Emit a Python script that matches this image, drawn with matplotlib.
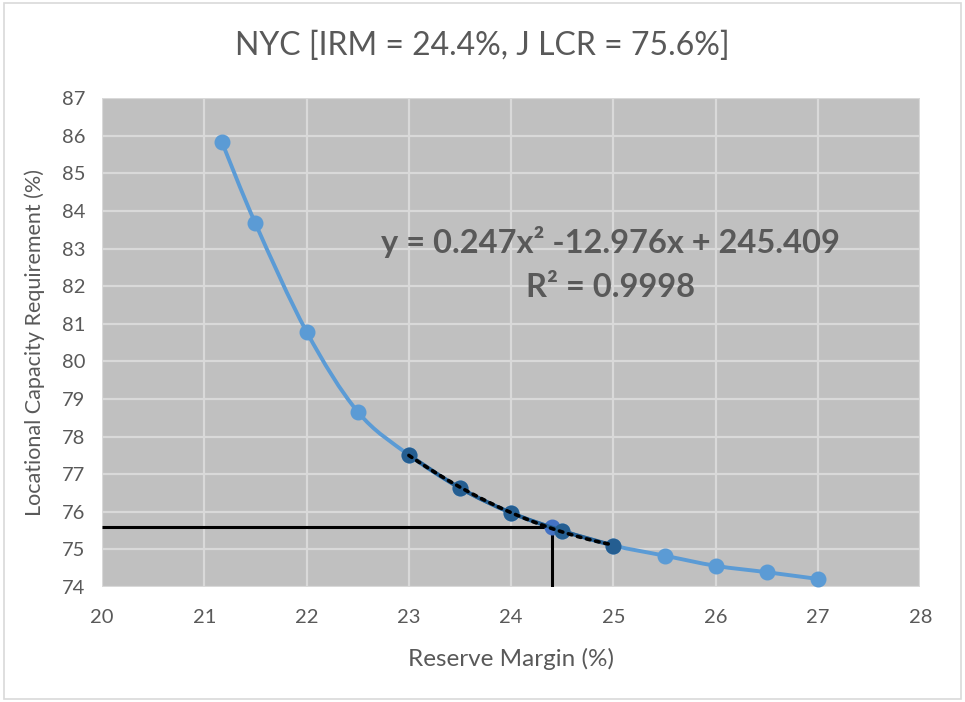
import numpy as np
import matplotlib
matplotlib.use("Agg")
import matplotlib.pyplot as plt
from matplotlib.path import Path
from matplotlib.patches import PathPatch, Rectangle

plt.rcParams['font.family'] = ['Lato', 'DejaVu Sans']

# Data
rm_all = [21.17, 21.5, 22.0, 22.5, 23.0, 23.5, 24.0, 24.5, 25.0, 25.5, 26.0, 26.5, 27.0]
lcr_all = [85.85, 83.67, 80.79, 78.66, 77.51, 76.63, 75.97, 75.49, 75.10, 74.83, 74.56, 74.39, 74.21]
rm_fit = [23.0, 23.5, 24.0, 24.5, 25.0]
lcr_fit = [77.51, 76.63, 75.97, 75.49, 75.10]
irm = 24.4
lcr = 75.6
title = "NYC [IRM = 24.4%, J LCR = 75.6%]"
eq_text = "y = 0.247x² -12.976x + 245.409"
r2_text = "R² = 0.9998"
xticks = [20, 21, 22, 23, 24, 25, 26, 27, 28]
yticks = list(range(74, 88))

light = '#5B9BD5'
dark = '#255E91'
mid = '#4472C4'
txt = '#595959'


def smooth_path(xs, ys, t=1/6):
    xs = np.asarray(xs, float); ys = np.asarray(ys, float)
    pts = np.column_stack([xs, ys])
    verts = [pts[0]]
    codes = [Path.MOVETO]
    n = len(pts)
    for i in range(n - 1):
        p0 = pts[i - 1] if i > 0 else pts[i]
        p1 = pts[i]
        p2 = pts[i + 1]
        p3 = pts[i + 2] if i + 2 < n else pts[i + 1]
        c1 = p1 + (p2 - p0) * t
        c2 = p2 - (p3 - p1) * t
        verts += [c1, c2, p2]
        codes += [Path.CURVE4] * 3
    return Path(verts, codes)


fig = plt.figure(figsize=(9.65, 7.02), dpi=100)
fig.patch.set_facecolor('white')
fig.patches.append(Rectangle((0.004, 0.004), 0.992, 0.992, transform=fig.transFigure,
                             fill=False, edgecolor='#D9D9D9', linewidth=1.2))
ax = fig.add_axes([0.1057, 0.164, 0.848, 0.696])
ax.set_facecolor('#C0C0C0')
ax.set_xlim(20, 28)
ax.set_ylim(74, 87)
ax.set_xticks(xticks)
ax.set_yticks(yticks)
ax.grid(True, color='#D9D9D9', linewidth=1.6)
ax.set_axisbelow(True)
for s in ax.spines.values():
    s.set_visible(False)
ax.tick_params(length=0, labelsize=14.5, colors=txt)
ax.tick_params(axis='x', pad=16)
ax.tick_params(axis='y', pad=12)

# main smoothed series
ax.add_patch(PathPatch(smooth_path(rm_all, lcr_all), facecolor='none', edgecolor=light,
                       linewidth=2.8, zorder=3))
ax.plot(rm_all, lcr_all, linestyle='none', marker='o', markersize=10.5, color=light, zorder=4)

# guide lines
ax.plot([20, irm], [lcr, lcr], color='black', linewidth=2.2, zorder=5, solid_capstyle='butt')
ax.plot([irm, irm], [74, lcr], color='black', linewidth=2.2, zorder=5, solid_capstyle='butt')

# IRM point
ax.plot([irm], [lcr], linestyle='none', marker='o', markersize=10.5, color=mid, zorder=6)

# fitted subset
ax.add_patch(PathPatch(smooth_path(rm_fit, lcr_fit), facecolor='none', edgecolor=dark,
                       linewidth=2.8, zorder=7))
ax.plot(rm_fit, lcr_fit, linestyle='none', marker='o', markersize=10.5, color=dark, zorder=7)

# trendline (polynomial order 2)
coef = np.polyfit(rm_fit, lcr_fit, 2)
xx = np.linspace(rm_fit[0], rm_fit[-1], 200)
ax.plot(xx, np.polyval(coef, xx), color='black', linestyle=(0, (1, 1.6)), linewidth=2.6,
        dash_capstyle='round', zorder=8)

ax.text(0.621, 0.705, eq_text, transform=ax.transAxes, ha='center', va='center',
        fontsize=23.5, fontweight='bold', color=txt, zorder=9)
ax.text(0.621, 0.613, r2_text, transform=ax.transAxes, ha='center', va='center',
        fontsize=23.5, fontweight='bold', color=txt, zorder=9)

ax.set_xlabel('Reserve Margin (%)', fontsize=17.5, color=txt, labelpad=16)
ax.set_ylabel('Locational Capacity Requirement (%)', fontsize=15.5, color=txt, labelpad=12)
fig.text(0.5, 0.935, title, ha='center', va='center', fontsize=23, color=txt)

fig.savefig('out.png', dpi=100)
